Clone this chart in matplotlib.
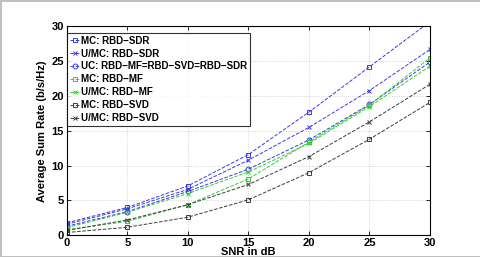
import numpy as np
import matplotlib
matplotlib.use('Agg')
import matplotlib.pyplot as plt

snr = [0, 5, 10, 15, 20, 25, 30]

mc_sdr = [1.8, 4.0, 7.1, 11.6, 17.7, 24.2, 30.7]
umc_sdr = [1.6, 3.8, 6.6, 10.8, 15.5, 20.8, 26.7]
uc_all = [1.3, 3.4, 6.3, 9.5, 13.7, 18.8, 24.9]
mc_mf = [0.8, 2.0, 4.4, 8.1, 13.4, 18.7, 25.5]
umc_mf = [1.1, 3.3, 6.0, 9.1, 13.2, 18.5, 24.3]
mc_svd = [0.4, 1.15, 2.6, 5.1, 9.0, 13.8, 19.1]
umc_svd = [0.7, 2.2, 4.4, 7.3, 11.3, 16.3, 21.7]

labels = ['MC: RBD\u2212SDR', 'U/MC: RBD\u2212SDR', 'UC: RBD\u2212MF=RBD\u2212SVD=RBD\u2212SDR',
          'MC: RBD\u2212MF', 'U/MC: RBD\u2212MF', 'MC: RBD\u2212SVD', 'U/MC: RBD\u2212SVD']

plt.rcParams['font.family'] = ['Liberation Sans', 'DejaVu Sans']
plt.rcParams['font.weight'] = 'bold'

fig = plt.figure(figsize=(4.81, 2.57), dpi=100)
fig.patch.set_facecolor('white')
fig.patch.set_edgecolor('#c0c0c0')
fig.patch.set_linewidth(1.0)
ax = fig.add_axes([0.139, 0.0845, 0.755, 0.8125])

blue = '#3a3ae0'
green = '#33cc33'
dark = '#3c3c3c'
kw = dict(linestyle='--', linewidth=0.7, markersize=3.5, markerfacecolor='none', markeredgewidth=0.7)
ax.plot(snr, mc_sdr, color=blue, marker='s', label=labels[0], **kw)
ax.plot(snr, umc_sdr, color=blue, marker='x', label=labels[1], **kw)
ax.plot(snr, uc_all, color=blue, marker='o', label=labels[2], **kw)
ax.plot(snr, mc_mf, color=green, marker='s', label=labels[3], **kw)
ax.plot(snr, umc_mf, color=green, marker='x', label=labels[4], **kw)
ax.plot(snr, mc_svd, color=dark, marker='s', label=labels[5], **kw)
ax.plot(snr, umc_svd, color=dark, marker='x', label=labels[6], **kw)

ax.set_xlim(0, 30)
ax.set_ylim(0, 30)
ax.set_xticks([0, 5, 10, 15, 20, 25, 30])
ax.set_yticks([0, 5, 10, 15, 20, 25, 30])
ax.tick_params(direction='in', labelsize=8, length=3, width=0.6, top=True, right=True, pad=2)
for lab in ax.get_xticklabels() + ax.get_yticklabels():
    lab.set_fontweight('bold')
ax.grid(True, linestyle=':', linewidth=0.6, color='#c8c8c8')
for sp in ax.spines.values():
    sp.set_linewidth(0.8)
ax.set_xlabel('SNR in dB', fontsize=8, fontweight='bold', labelpad=-1)
ax.set_ylabel('Average Sum Rate (b/s/Hz)', fontsize=8, fontweight='bold', labelpad=3)

leg = ax.legend(loc='upper left', bbox_to_anchor=(0.0, 0.97), frameon=True, fancybox=False,
                edgecolor='black', handlelength=1.0, handletextpad=0.2, borderpad=0.3,
                labelspacing=0.3, borderaxespad=0.0, prop={'weight': 'bold', 'size': 7.0})
leg.get_frame().set_linewidth(0.8)

plt.savefig('out.png', dpi=100)
